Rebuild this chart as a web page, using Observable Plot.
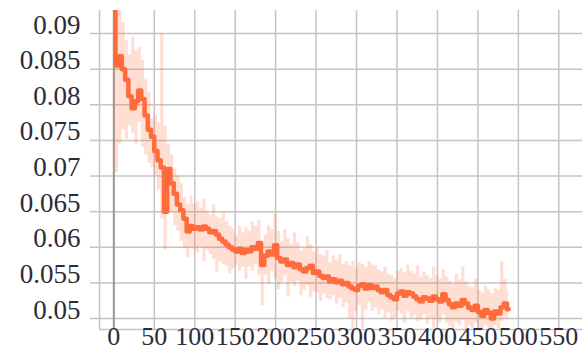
<!DOCTYPE html>
<html><head><meta charset="utf-8">
<script src="https://cdn.jsdelivr.net/npm/d3@7"></script>
<script src="https://cdn.jsdelivr.net/npm/@observablehq/plot@0.6"></script>
<style>body{margin:0;background:#fff}</style>
</head><body><div id="chart"></div>
<script>
const stepSize = 4;
const meanVals = [
0.1000,0.0855,0.0868,0.0850,0.0835,0.0812,0.0795,0.0805,0.0820,0.0808,
0.0785,0.0765,0.0755,0.0735,0.0722,0.0712,0.0650,0.0710,0.0690,0.0675,
0.0660,0.0652,0.0640,0.0622,0.0630,0.0626,0.0628,0.0625,0.0629,0.0626,
0.0621,0.0623,0.0618,0.0612,0.0608,0.0604,0.0600,0.0597,0.0594,0.0598,
0.0592,0.0596,0.0594,0.0600,0.0598,0.0606,0.0575,0.0588,0.0594,0.0590,
0.0603,0.0585,0.0580,0.0583,0.0575,0.0578,0.0572,0.0576,0.0569,0.0566,
0.0571,0.0574,0.0564,0.0566,0.0560,0.0557,0.0559,0.0552,0.0555,0.0551,
0.0553,0.0548,0.0550,0.0545,0.0542,0.0540,0.0546,0.0548,0.0542,0.0547,
0.0543,0.0545,0.0540,0.0537,0.0540,0.0533,0.0530,0.0527,0.0535,0.0538,
0.0532,0.0537,0.0535,0.0531,0.0527,0.0524,0.0530,0.0528,0.0525,0.0531,
0.0527,0.0524,0.0534,0.0526,0.0520,0.0516,0.0521,0.0518,0.0526,0.0521,
0.0515,0.0512,0.0518,0.0509,0.0504,0.0512,0.0508,0.0500,0.0510,0.0507,
0.0516,0.0521,0.0513];
const loVals = [
0.0715,0.0705,0.0745,0.0765,0.0752,0.0770,0.0760,0.0745,0.0775,0.0740,
0.0730,0.0718,0.0712,0.0700,0.0680,0.0640,0.0596,0.0650,0.0648,0.0630,
0.0622,0.0608,0.0598,0.0585,0.0600,0.0596,0.0592,0.0600,0.0580,0.0596,
0.0590,0.0583,0.0565,0.0580,0.0576,0.0574,0.0562,0.0570,0.0574,0.0566,
0.0572,0.0555,0.0572,0.0566,0.0575,0.0560,0.0518,0.0560,0.0548,0.0566,
0.0556,0.0540,0.0550,0.0560,0.0530,0.0550,0.0545,0.0552,0.0532,0.0540,
0.0546,0.0530,0.0538,0.0536,0.0524,0.0534,0.0528,0.0526,0.0532,0.0520,
0.0528,0.0515,0.0522,0.0500,0.0485,0.0510,0.0518,0.0486,0.0512,0.0522,
0.0510,0.0515,0.0505,0.0512,0.0500,0.0508,0.0496,0.0500,0.0510,0.0506,
0.0494,0.0510,0.0500,0.0504,0.0496,0.0498,0.0505,0.0492,0.0500,0.0486,
0.0498,0.0494,0.0505,0.0494,0.0488,0.0484,0.0494,0.0490,0.0498,0.0484,
0.0490,0.0486,0.0494,0.0484,0.0484,0.0490,0.0486,0.0482,0.0490,0.0486,
0.0496,0.0500,0.0496];
const hiVals = [
0.0980,0.0960,0.0935,0.0915,0.0890,0.0870,0.0895,0.0875,0.0880,0.0862,
0.0835,0.0818,0.0780,0.0785,0.0775,0.0900,0.0770,0.0745,0.0730,0.0710,
0.0700,0.0690,0.0670,0.0660,0.0672,0.0660,0.0664,0.0655,0.0668,0.0650,
0.0645,0.0660,0.0642,0.0640,0.0648,0.0636,0.0630,0.0625,0.0616,0.0630,
0.0620,0.0628,0.0622,0.0635,0.0630,0.0638,0.0606,0.0618,0.0630,0.0625,
0.0646,0.0622,0.0608,0.0625,0.0612,0.0604,0.0620,0.0606,0.0595,0.0598,
0.0615,0.0604,0.0593,0.0600,0.0590,0.0588,0.0595,0.0578,0.0588,0.0582,
0.0590,0.0576,0.0580,0.0574,0.0580,0.0571,0.0578,0.0576,0.0572,0.0580,
0.0575,0.0574,0.0568,0.0566,0.0572,0.0562,0.0560,0.0556,0.0566,0.0570,
0.0564,0.0575,0.0566,0.0562,0.0574,0.0558,0.0565,0.0560,0.0556,0.0572,
0.0560,0.0556,0.0568,0.0558,0.0552,0.0548,0.0562,0.0554,0.0573,0.0552,
0.0545,0.0544,0.0555,0.0540,0.0536,0.0545,0.0540,0.0535,0.0542,0.0540,
0.0580,0.0555,0.0540];
const xTicks = [0,50,100,150,200,250,300,350,400,450,500,550];
const yTicks = [0.05,0.055,0.06,0.065,0.07,0.075,0.08,0.085,0.09];
const yTickLabels = ["0.05","0.055","0.06","0.065","0.07","0.075","0.08","0.085","0.09"];
const xDomain = [-17.7, 579.3];
const yDomain = [0.04846, 0.09323];

const data = meanVals.map((m, i) => ({x: i * stepSize, mean: m, lo: loVals[i], hi: hiVals[i]}));
const gridColor = "#c4c4c4";
const textColor = "#2c2c38";

const chart = Plot.plot({
  width: 582, height: 351,
  marginLeft: 99, marginRight: 0, marginTop: 10, marginBottom: 22,
  x: {domain: xDomain, label: null},
  y: {domain: yDomain, label: null},
  style: {fontFamily: "'Liberation Serif', serif", fontSize: "26px", color: textColor, background: "#fff"},
  marks: [
    Plot.gridX(xTicks, {stroke: gridColor, strokeOpacity: 1, strokeWidth: 1.5}),
    Plot.gridY(yTicks, {stroke: gridColor, strokeOpacity: 1, strokeWidth: 1.5}),
    Plot.ruleX([xDomain[0]], {stroke: gridColor, strokeWidth: 1.5}),
    Plot.ruleY([yDomain[0]], {stroke: gridColor, strokeWidth: 1.5}),
    Plot.ruleX([0], {stroke: "#9a9a9a", strokeWidth: 2}),
    Plot.areaY(data, {x: "x", y1: "lo", y2: "hi", curve: "step", fill: "#ff6e3a", fillOpacity: 0.22, clip: true}),
    Plot.lineY(data, {x: "x", y: "mean", curve: "step", stroke: "#ff6b3b", strokeWidth: 4.5, clip: true}),
    Plot.axisY(yTicks, {label: null, tickSize: 9, tickPadding: 10, stroke: gridColor, strokeWidth: 1.5, strokeOpacity: 1, lineAnchor: "bottom", fill: textColor,
      tickFormat: (d, i) => yTickLabels[i], fontSize: 27}),
    Plot.axisX(xTicks, {label: null, tickSize: 0, tickPadding: 0, dy: -3, fill: textColor, fontSize: 26, tickFormat: d => String(d)})
  ]
});
document.getElementById("chart").appendChild(chart);
</script>
</body></html>
